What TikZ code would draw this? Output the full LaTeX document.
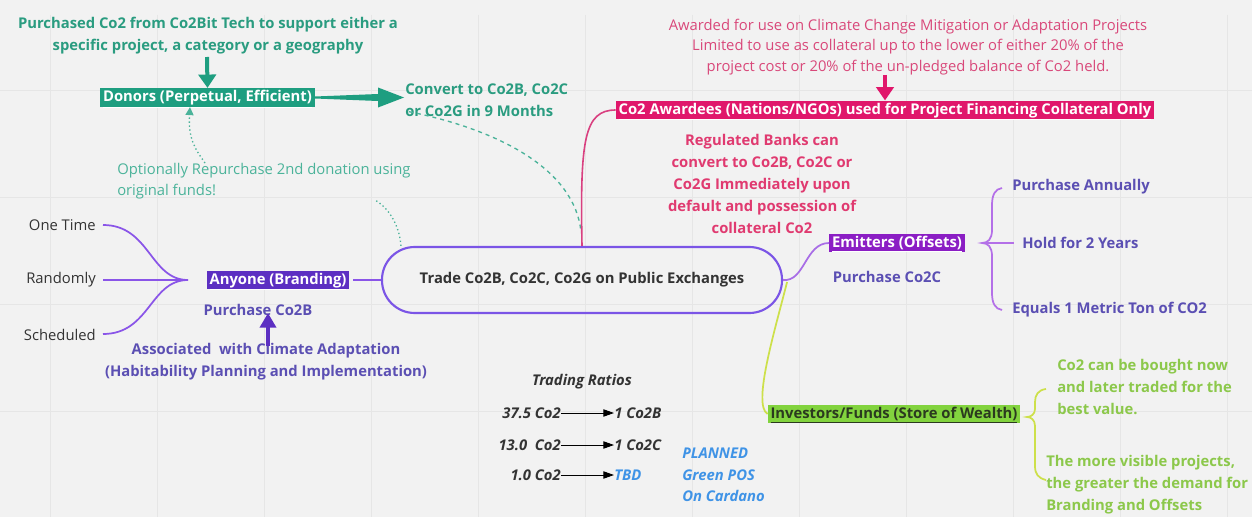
\documentclass[tikz,border=0pt]{standalone}
\usepackage{fontspec}
\setmainfont{Open Sans}
\usetikzlibrary{arrows.meta,calc}
\definecolor{bg}{HTML}{F2F2F2}
\definecolor{gridc}{HTML}{E6E6E6}
\definecolor{teal}{HTML}{1E9E80}
\definecolor{tealtxt}{HTML}{2A9C80}
\definecolor{teallt}{HTML}{4BB39A}
\definecolor{violet}{HTML}{5C2FC2}
\definecolor{lilac}{HTML}{8A55E8}
\definecolor{tradeb}{HTML}{7B55E6}
\definecolor{emitb}{HTML}{8B1EC4}
\definecolor{emitl}{HTML}{A86DE6}
\definecolor{bracep}{HTML}{B470E8}
\definecolor{slate}{HTML}{5B4FB3}
\definecolor{pinkbox}{HTML}{E0176B}
\definecolor{pinktxt}{HTML}{D9487A}
\definecolor{pinkbold}{HTML}{E03A70}
\definecolor{pinkl}{HTML}{D94080}
\definecolor{limebox}{HTML}{82D33E}
\definecolor{limetxt}{HTML}{2B3A1F}
\definecolor{yelg}{HTML}{CDE04A}
\definecolor{greentxt}{HTML}{8CC84B}
\definecolor{bluet}{HTML}{3F93E6}
\definecolor{darkt}{HTML}{333333}
\tikzset{
  t/.style={inner sep=0pt, align=center, font=\fontsize{11.1}{16.5}\selectfont\bfseries},
  tr/.style={inner sep=0pt, align=center, font=\fontsize{11.1}{15.5}\selectfont},
  tl/.style={t, align=left},
  box/.style={inner xsep=2pt, inner ysep=1.5pt, text height=8.5pt, text depth=2.5pt, text=white, font=\fontsize{11.1}{12}\selectfont\bfseries},
  fat/.style={line width=3pt, -{Triangle[length=10pt,width=13pt]}},
  ratio/.style={inner sep=0pt, font=\fontsize{11.1}{12}\selectfont\bfseries\itshape, text=darkt},
  rarr/.style={black, line width=0.7pt, -{Triangle[length=8pt,width=5.5pt]}},
}
\begin{document}
\begin{tikzpicture}[x=0.75pt,y=-0.75pt]
\fill[bg] (0,0) rectangle (1252,517);
\useasboundingbox (0,0) rectangle (1252,517);
\foreach \gx in {50,157,264,371,478,585,692,799,906,1013,1120,1227} \draw[gridc,line width=0.5pt] (\gx,15) -- (\gx,517);
\foreach \gy in {90,197,304,411} \draw[gridc,line width=0.5pt] (0,\gy) -- (1252,\gy);

% ---- teal / donors
\node[t, text=tealtxt] (purch) at (208,36) {Purchased Co2 from Co2Bit Tech to support either a\\specific project, a category or a geography};
\node[box, fill=teal] (donors) at (207.5,97.5) {\underline{Donors (Perpetual, Efficient)}};
\draw[teal, fat] (207,57) -- (donors.north);
\node[tl, text=tealtxt, anchor=west] (convert) at (405,100) {Convert to Co2B, Co2C\\ or Co2G in 9 Months};
\coordinate (ctip) at (donors.east -| convert.west);
\fill[teal] ($(donors.east)+(0,-1)$) -- ($(ctip)+(-27,-3.5)$) -- ($(ctip)+(-27,-10)$) -- ($(ctip)+(-1,0)$) -- ($(ctip)+(-27,10)$) -- ($(ctip)+(-27,3.5)$) -- ($(donors.east)+(0,1)$) -- cycle;
\node[tr, align=left, text=teallt, anchor=west] (opt) at (117,181) {Optionally Repurchase 2nd donation using\\original funds!};

% ---- central
\node[draw=tradeb, line width=1.6pt, minimum width=300pt, minimum height=49.5pt, rounded corners=24.5pt, inner sep=0pt, font=\fontsize{11.1}{12}\selectfont\bfseries, text=darkt] (trade) at (582,280) {Trade Co2B, Co2C, Co2G on Public Exchanges};

\draw[teallt, line width=1pt, dash pattern=on 3pt off 3pt] (convert.south west) ++(4,-5) .. controls (500,130) and (575,170) .. ($(trade.north)+(-1,-14)$);
\draw[teallt, dotted, line width=1pt] ($(trade.north west)+(20,0)$) .. controls (400,230) and (392,210) .. (375,200);
\draw[teallt, dotted, line width=1pt, -{Triangle[length=6pt,width=6pt]}] (205,163) .. controls (196,150) and (188,140) .. (donors.south -| 190,0);

% ---- left
\node[tr, text=darkt, anchor=east] (one) at (96,225) {One Time};
\node[tr, text=darkt, anchor=east] (rand) at (96,280) {Randomly};
\node[tr, text=darkt, anchor=east] (sched) at (96,335) {Scheduled};
\coordinate (hub) at (188,280);
\draw[lilac, line width=1.3pt] (103,225) .. controls (150,225) and (150,280) .. (hub);
\draw[lilac, line width=1.3pt] (103,280) -- (hub);
\draw[lilac, line width=1.3pt] (103,334) .. controls (150,334) and (150,280) .. (hub);
\node[box, fill=violet] (anyone) at (278,280) {\underline{Anyone (Branding)}};
\draw[lilac, line width=1.3pt] (353,280) -- (trade.west);
\node[t, text=slate] (pco2b) at (258,310) {Purchase Co2B};
\node[t, text=slate] (assoc) at (266,362) {Associated\ \ with Climate Adaptation\\(Habitability Planning and Implementation)};
\draw[violet, line width=3pt, -{Triangle[length=11pt,width=12pt]}] (268,346) -- (268,313);

% ---- pink
\node[tr, text=pinktxt] (award) at (908,47) {Awarded for use on Climate Change Mitigation or Adaptation Projects\\Limited to use as collateral up to the lower of either 20\% of the\\project cost or 20\% of the un-pledged balance of Co2 held.};
\node[box, fill=pinkbox] (awardee) at (885,110) {\underline{Co2 Awardees (Nations/NGOs) used for Project Financing Collateral Only}};
\draw[pinkbox, line width=2.5pt, -{Triangle[length=10pt,width=13pt]}] (885,75) -- (awardee.north);
\draw[pinkl, line width=1.2pt] (trade.north) .. controls (580,140) and (584,110) .. (awardee.west);
\node[t, text=pinkbold] (banks) at (762,184) {Regulated Banks can\\convert to Co2B, Co2C or\\Co2G Immediately upon\\default and possession of\\collateral Co2};

% ---- emitters
\node[box, fill=emitb] (emit) at (897,243) {\underline{Emitters (Offsets)}};
\draw[emitl, line width=1.3pt] (trade.east) .. controls (805,282) and (805,243) .. (emit.west);
\node[t, text=slate] (pco2c) at (887,277) {Purchase Co2C};
\draw[bracep, line width=1.3pt] (1002,188) .. controls (995,189) and (992,195) .. (992,205) -- (992,230) .. controls (992,239) and (988,243) .. (982,243) .. controls (988,243) and (992,247) .. (992,256) -- (992,293) .. controls (992,303) and (995,309) .. (1002,310);
\coordinate (btip) at (982,243);
\node[tl, text=slate, anchor=west] (pann) at (1012,187) {Purchase Annually};
\node[tl, text=slate, anchor=west] (hold) at (1022,243) {Hold for 2 Years};
\node[tl, text=slate, anchor=west] (equals) at (1012,310) {Equals 1 Metric Ton of CO2};
\draw[bracep, line width=1.3pt] (btip) -- ($(hold.west)+(-8,0)$);

% ---- investors
\node[box, fill=limebox, text=limetxt] (invest) at (894,414) {\underline{Investors/Funds (Store of Wealth)}};
\draw[yelg, line width=1.3pt] ($(trade.east)+(4,2)$) .. controls (775,330) and (752,405) .. (invest.west);
\draw[yelg, line width=1.3pt] (1046,389) .. controls (1038,390) and (1035,395) .. (1035,402) -- (1035,409) .. controls (1035,414) and (1031,417) .. (1027,417) .. controls (1031,417) and (1035,420) .. (1035,426) -- (1035,466) .. controls (1035,474) and (1038,478) .. (1046,480);
\node[tl, text=greentxt, anchor=west] (bought) at (1057,387) {Co2 can be bought now\\and later traded for the\\best value.};
\node[tl, text=greentxt, anchor=west] (visible) at (1046,485) {The more visible projects,\\the greater the demand for\\Branding and Offsets};

% ---- ratios
\node[ratio] (trt) at (582,382) {Trading Ratios};
\node[ratio, anchor=east] (r1l) at (561,413) {37.5 Co2};
\node[ratio, anchor=west] (r1r) at (614,413) {1 Co2B};
\node[ratio, anchor=east] (r2l) at (561,445) {13.0\ \ Co2};
\node[ratio, anchor=west] (r2r) at (614,445) {1 Co2C};
\node[ratio, anchor=east] (r3l) at (561,475) {1.0 Co2};
\node[ratio, anchor=west, text=bluet] (r3r) at (614,475) {TBD};
\draw[rarr] (r1l.east) -- (r1r.west);
\draw[rarr] (r2l.east) -- (r2r.west);
\draw[rarr] (r3l.east) -- (r3r.west);
\node[ratio, align=left, text=bluet, anchor=west, font=\fontsize{11.1}{16}\selectfont\bfseries\itshape] (planned) at (682,475) {PLANNED\\Green POS\\On Cardano};
\end{tikzpicture}
\end{document}
